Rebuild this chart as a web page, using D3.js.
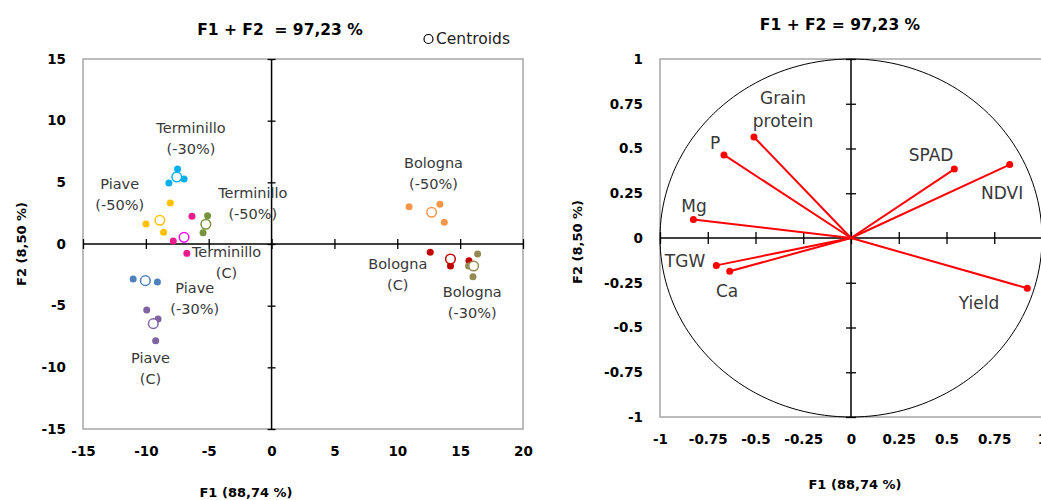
<!DOCTYPE html>
<html>
<head>
<meta charset="utf-8">
<script src="https://cdn.jsdelivr.net/npm/d3@7"></script>
<style>
  body { margin: 0; background: #fff; }
  text { font-family: "DejaVu Sans", sans-serif; }
  .tick-lab text { font-weight: bold; font-size: 13.5px; fill: #000; }
  .lab { font-size: 14.5px; fill: #383838; }
  .vlab { font-size: 17px; fill: #383838; }
</style>
</head>
<body>
<div id="chart"></div>
<script>
/* Two panels of a PCA: observations with group centroids (left)
   and the correlation circle of the variables (right). */

// ---- left panel data: observations ----
const groupNames = [
  ["Terminillo", "(-30%)"], ["Piave", "(-50%)"], ["Terminillo", "(-50%)"],
  ["Terminillo", "(C)"], ["Piave", "(-30%)"], ["Piave", "(C)"],
  ["Bologna", "(-50%)"], ["Bologna", "(C)"], ["Bologna", "(-30%)"]
];
const obsGroup = [0, 0, 0, 1, 1, 1, 2, 2, 3, 3, 3, 4, 4, 5, 5, 5, 6, 6, 6, 7, 7, 7, 8, 8, 8];
const obsF1 = [-7.48, -8.17, -6.96, -8.06, -9.99, -8.59, -5.09, -5.45, -6.33, -7.82, -6.74,
  -11.01, -9.08, -9.93, -9.03, -9.22, 10.94, 13.39, 13.74, 12.62, 14.23, 15.7, 16.39, 15.67, 16.02];
const obsF2 = [6.08, 4.95, 5.27, 3.33, 1.62, 0.95, 2.3, 0.92, 2.24, 0.24, -0.76,
  -2.84, -3.08, -5.35, -6.08, -7.84, 3.03, 3.22, 1.76, -0.67, -1.78, -1.35, -0.81, -1.78, -2.65];
const centroidF1 = [-7.54, -8.89, -5.23, -6.96, -10.04, -9.41, 12.73, 14.23, 16.07];
const centroidF2 = [5.43, 1.92, 1.6, 0.54, -2.97, -6.46, 2.57, -1.22, -1.78];
// where each group name sits (data units, first line)
const groupLabelF1 = [-6.41, -12.08, -1.49, -3.58, -6.11, -9.63, 12.88, 10.04, 15.96];
const groupLabelF2 = [9.41, 4.87, 4.14, -0.65, -3.57, -9.25, 6.57, -1.62, -3.89];
const leftTicksX = [-15, -10, -5, 0, 5, 10, 15, 20];
const leftTicksY = [-15, -10, -5, 0, 5, 10, 15];

// ---- right panel data: variables ----
const varNames = [["Grain", "protein"], ["P"], ["Mg"], ["SPAD"], ["NDVI"], ["TGW"], ["Ca"], ["Yield"]];
const varF1 = [-0.508, -0.665, -0.825, 0.541, 0.831, -0.705, -0.635, 0.923];
const varF2 = [0.564, 0.464, 0.104, 0.385, 0.41, -0.153, -0.186, -0.281];
const varLabelF1 = [-0.356, -0.712, -0.822, 0.419, 0.791, -0.869, -0.649, 0.67];
const varLabelF2 = [0.782, 0.531, 0.179, 0.464, 0.251, -0.128, -0.296, -0.363];
const rightTicks = [-1, -0.75, -0.5, -0.25, 0, 0.25, 0.5, 0.75, 1];

const groupColors = ["#00b0f0", "#ffc000", "#77933c", "#ec1c8f", "#4f81bd",
  "#8064a2", "#f79646", "#c00000", "#948a54"];
const centroidColors = ["#00b0f0", "#ffc000", "#77933c", "#ff00ff", "#4f81bd",
  "#8064a2", "#f79646", "#c00000", "#948a54"];

const W = 1041, H = 500;
const svg = d3.select("#chart").append("svg").attr("width", W).attr("height", H);

/* draws frame, crossing axes through zero and outside tick labels */
function panel(x, y, ticksX, ticksY, tickX, tickY) {
  const g = svg.append("g");
  const [x0, x1] = x.range(), [y0, y1] = y.range();
  g.append("rect")
    .attr("x", x0).attr("y", y1)
    .attr("width", x1 - x0).attr("height", y0 - y1)
    .attr("fill", "none").attr("stroke", "#a6a6a6").attr("stroke-width", 1.5);

  // zero axes with crossing ticks
  g.append("g")
    .attr("transform", "translate(0," + (y(0) - tickX) + ")")
    .call(d3.axisBottom(x).tickValues(ticksX).tickSize(tickX * 2).tickFormat(""))
    .call((a) => a.select(".domain").remove())
    .selectAll("line").attr("stroke", "#000").attr("stroke-width", 1.3);
  g.append("g")
    .attr("transform", "translate(" + (x(0) + tickY) + ",0)")
    .call(d3.axisLeft(y).tickValues(ticksY).tickSize(tickY * 2).tickFormat(""))
    .call((a) => a.select(".domain").remove())
    .selectAll("line").attr("stroke", "#000").attr("stroke-width", 1.3);
  g.append("line")
    .attr("x1", x0).attr("x2", x1).attr("y1", y(0)).attr("y2", y(0))
    .attr("stroke", "#000").attr("stroke-width", 1.5);
  g.append("line")
    .attr("x1", x(0)).attr("x2", x(0)).attr("y1", y0).attr("y2", y1)
    .attr("stroke", "#000").attr("stroke-width", 1.5);

  // labels
  g.append("g")
    .attr("class", "tick-lab")
    .attr("transform", "translate(0," + (y0 + 14) + ")")
    .call(d3.axisBottom(x).tickValues(ticksX).tickSize(0).tickFormat((d) => String(d)))
    .call((a) => a.select(".domain").remove());
  g.append("g")
    .attr("class", "tick-lab")
    .attr("transform", "translate(" + (x0 - 14) + ",0)")
    .call(d3.axisLeft(y).tickValues(ticksY).tickSize(0).tickFormat((d) => String(d)))
    .call((a) => a.select(".domain").remove());
  g.selectAll(".tick-lab text").attr("font-family", null);
  return g;
}

function titles(g, cx, titleY, title, xTitleX, xTitleY, yTitleX, yTitleY) {
  g.append("text").attr("x", cx).attr("y", titleY).attr("dy", "0.35em")
    .attr("text-anchor", "middle").attr("font-weight", "bold").attr("font-size", 15.5)
    .style("white-space", "pre")
    .text(title);
  g.append("text").attr("x", xTitleX).attr("y", xTitleY).attr("dy", "0.35em")
    .attr("text-anchor", "middle").attr("font-weight", "bold").attr("font-size", 13)
    .text("F1 (88,74 %)");
  g.append("text").attr("dy", "0.35em")
    .attr("transform", "translate(" + yTitleX + "," + yTitleY + ")rotate(-90)")
    .attr("text-anchor", "middle").attr("font-weight", "bold").attr("font-size", 13)
    .text("F2 (8,50 %)");
}

// ---------------- left panel ----------------
const xL = d3.scaleLinear().domain([-15, 20]).range([83, 523]);
const yL = d3.scaleLinear().domain([-15, 15]).range([429, 59]);
const left = panel(xL, yL, leftTicksX, leftTicksY, 5, 4);
titles(left, 280, 30, "F1 + F2  = 97,23 %", 246, 492, 21, 244);

left.selectAll(".obs")
  .data(obsF1)
  .enter()
  .append("circle")
  .attr("class", "obs")
  .attr("cx", (d) => xL(d))
  .attr("cy", (d, i) => yL(obsF2[i]))
  .attr("r", 3.5)
  .attr("fill", (d, i) => groupColors[obsGroup[i]]);

left.selectAll(".cent")
  .data(centroidF1)
  .enter()
  .append("circle")
  .attr("class", "cent")
  .attr("cx", (d) => xL(d))
  .attr("cy", (d, i) => yL(centroidF2[i]))
  .attr("r", 4.8)
  .attr("fill", "#fff")
  .attr("stroke", (d, i) => centroidColors[i])
  .attr("stroke-width", 1.5);

const gl = left.selectAll(".glab")
  .data(groupNames)
  .enter()
  .append("text")
  .attr("class", "lab")
  .attr("text-anchor", "middle")
  .attr("x", (d, i) => xL(groupLabelF1[i]))
  .attr("y", (d, i) => yL(groupLabelF2[i]));
gl.selectAll("tspan")
  .data((d) => d)
  .enter()
  .append("tspan")
  .attr("x", function () { return d3.select(this.parentNode).attr("x"); })
  .attr("dy", (d, i) => (i === 0 ? "0.35em" : "20.5px"))
  .text((d) => d);

// centroid legend
left.append("circle").attr("cx", 428.5).attr("cy", 39).attr("r", 4.5)
  .attr("fill", "none").attr("stroke", "#000").attr("stroke-width", 1.2);
left.append("text").attr("x", 436).attr("y", 39).attr("dy", "0.35em")
  .attr("font-size", 15.5).attr("fill", "#222").text("Centroids");

// ---------------- right panel ----------------
const xR = d3.scaleLinear().domain([-1, 1]).range([660, 1042]);
const yR = d3.scaleLinear().domain([-1, 1]).range([417, 59]);
const right = panel(xR, yR, rightTicks, rightTicks, 6, 5);
titles(right, 840, 25, "F1 + F2 = 97,23 %", 855, 484, 577, 242);

// correlation circle
const circ = d3.range(0, 361, 2).map((a) => [Math.cos(a * Math.PI / 180), Math.sin(a * Math.PI / 180)]);
right.append("path")
  .attr("d", d3.line().x((d) => xR(d[0])).y((d) => yR(d[1]))(circ) + "Z")
  .attr("fill", "none").attr("stroke", "#000").attr("stroke-width", 1);

right.selectAll(".vec")
  .data(varF1)
  .enter()
  .append("line")
  .attr("class", "vec")
  .attr("x1", xR(0)).attr("y1", yR(0))
  .attr("x2", (d) => xR(d))
  .attr("y2", (d, i) => yR(varF2[i]))
  .attr("stroke", "#ff0000").attr("stroke-width", 2);

right.selectAll(".vdot")
  .data(varF1)
  .enter()
  .append("circle")
  .attr("class", "vdot")
  .attr("cx", (d) => xR(d))
  .attr("cy", (d, i) => yR(varF2[i]))
  .attr("r", 3.5)
  .attr("fill", "#ff0000");

const vl = right.selectAll(".vlabel")
  .data(varNames)
  .enter()
  .append("text")
  .attr("class", "vlab")
  .attr("text-anchor", "middle")
  .attr("x", (d, i) => xR(varLabelF1[i]))
  .attr("y", (d, i) => yR(varLabelF2[i]));
vl.selectAll("tspan")
  .data((d) => d)
  .enter()
  .append("tspan")
  .attr("x", function () { return d3.select(this.parentNode).attr("x"); })
  .attr("dy", (d, i) => (i === 0 ? "0.35em" : "23px"))
  .text((d) => d);
</script>
</body>
</html>
